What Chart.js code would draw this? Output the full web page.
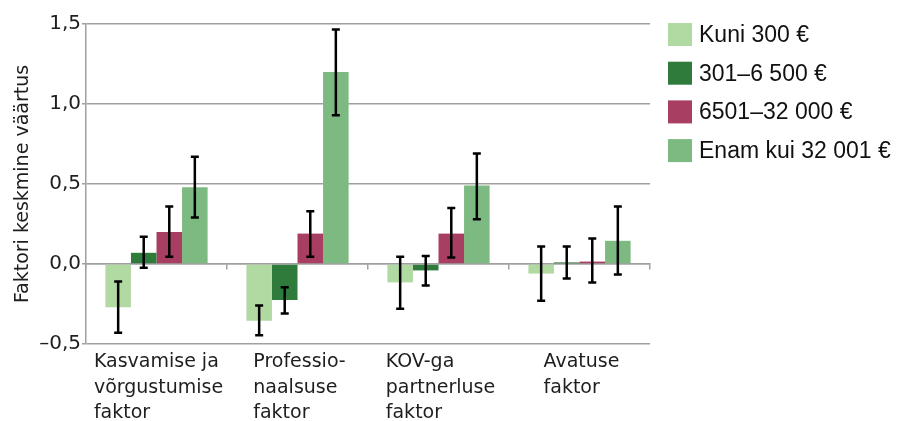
<!DOCTYPE html>
<html>
<head>
<meta charset="utf-8">
<script src="https://cdn.jsdelivr.net/npm/chart.js@4.4.1/dist/chart.umd.min.js"></script>
<style>
    html, body { margin: 0; padding: 0; background: #fff; }
</style>
</head>
<body>
<canvas id="factorChart" width="898" height="421"></canvas>
<script>
// Categories (multi-line labels)
const categories = [
    ['Kasvamise ja', 'võrgustumise', 'faktor'],
    ['Professio-', 'naalsuse', 'faktor'],
    ['KOV-ga', 'partnerluse', 'faktor'],
    ['Avatuse', 'faktor']
];

const seriesNames = ['Kuni 300 €', '301–6 500 €', '6501–32 000 €', 'Enam kui 32 001 €'];
const seriesColors = ['#b1daa3', '#2e7b3c', '#a83e62', '#7dba81'];

// Mean values per series
const meanKuni300 = [-0.27, -0.355, -0.115, -0.06];
const mean301to6500 = [0.07, -0.225, -0.04, 0.01];
const mean6501to32000 = [0.20, 0.19, 0.19, 0.015];
const meanOver32001 = [0.48, 1.20, 0.49, 0.145];

// Error bar ranges (low / high)
const lowKuni300 = [-0.43, -0.445, -0.28, -0.23];
const highKuni300 = [-0.11, -0.26, 0.045, 0.11];
const low301to6500 = [-0.023, -0.31, -0.135, -0.09];
const high301to6500 = [0.17, -0.145, 0.05, 0.11];
const low6501to32000 = [0.045, 0.045, 0.04, -0.115];
const high6501to32000 = [0.36, 0.33, 0.35, 0.16];
const lowOver32001 = [0.29, 0.93, 0.28, -0.065];
const highOver32001 = [0.67, 1.465, 0.69, 0.36];

// Y axis ticks
const yTicks = [-0.5, 0, 0.5, 1.0, 1.5];

const means = [meanKuni300, mean301to6500, mean6501to32000, meanOver32001];
const lows = [lowKuni300, low301to6500, low6501to32000, lowOver32001];
const highs = [highKuni300, high301to6500, high6501to32000, highOver32001];

const GRID = '#a0a0a0';
const AXIS_FONT = 'DejaVu Sans';
const TEXT = '#1e1e1e';

// Error bars drawn on top of the bars
const errorBarPlugin = {
    id: 'errorBars',
    afterDatasetsDraw(chart) {
        const ctx = chart.ctx;
        const yScale = chart.scales.y;
        ctx.save();
        ctx.strokeStyle = '#000';
        ctx.lineWidth = 2.5;
        chart.data.datasets.forEach((ds, i) => {
            const meta = chart.getDatasetMeta(i);
            meta.data.forEach((bar, j) => {
                const x = bar.x;
                const yLo = yScale.getPixelForValue(ds.errLow[j]);
                const yHi = yScale.getPixelForValue(ds.errHigh[j]);
                ctx.beginPath();
                ctx.moveTo(x, yLo);
                ctx.lineTo(x, yHi);
                ctx.moveTo(x - 4, yLo);
                ctx.lineTo(x + 4, yLo);
                ctx.moveTo(x - 4, yHi);
                ctx.lineTo(x + 4, yHi);
                ctx.stroke();
            });
        });
        ctx.restore();
    }
};

// Category labels: centred block, lines left-aligned
const categoryLabelPlugin = {
    id: 'categoryLabels',
    afterDraw(chart) {
        const ctx = chart.ctx;
        const xScale = chart.scales.x;
        ctx.save();
        ctx.font = '19px "' + AXIS_FONT + '"';
        ctx.fillStyle = TEXT;
        ctx.textAlign = 'left';
        ctx.textBaseline = 'alphabetic';
        chart.data.labels.forEach((lines, j) => {
            const cx = xScale.getPixelForValue(j) + 2;
            const w = Math.max(...lines.map(l => ctx.measureText(l).width));
            const left = cx - w / 2;
            lines.forEach((line, k) => {
                ctx.fillText(line, left, 367 + k * 25.5);
            });
        });
        ctx.restore();
    }
};

// Legend on the right
const legendPlugin = {
    id: 'sideLegend',
    afterDraw(chart) {
        const ctx = chart.ctx;
        ctx.save();
        ctx.font = '23px "Liberation Sans"';
        ctx.textBaseline = 'middle';
        chart.data.datasets.forEach((ds, i) => {
            const top = 23 + i * 38.7;
            ctx.fillStyle = ds.backgroundColor;
            ctx.fillRect(668, top, 24, 23);
            ctx.fillStyle = '#111';
            ctx.fillText(ds.label, 699, top + 12.5);
        });
        ctx.restore();
    }
};

const datasets = seriesNames.map((name, i) => ({
    label: name,
    data: means[i],
    errLow: lows[i],
    errHigh: highs[i],
    backgroundColor: seriesColors[i],
    borderWidth: 0,
    barPercentage: 1.0,
    categoryPercentage: 0.725
}));

const ctx = document.getElementById('factorChart').getContext('2d');
new Chart(ctx, {
    type: 'bar',
    data: { labels: categories, datasets: datasets },
    options: {
        responsive: false,
        animation: false,
        events: [],
        layout: { padding: { left: 0, right: 248, top: 24, bottom: 77 } },
        plugins: {
            legend: { display: false },
            tooltip: { enabled: false }
        },
        scales: {
            x: {
                position: { y: 0 },
                grid: {
                    display: true,
                    offset: true,
                    drawOnChartArea: false,
                    drawTicks: true,
                    tickLength: 5,
                    color: GRID,
                    lineWidth: 1.5
                },
                border: { display: true, color: GRID, width: 1.5 },
                ticks: { display: false }
            },
            y: {
                min: -0.5,
                max: 1.5,
                afterBuildTicks(scale) {
                    scale.ticks = yTicks.map(v => ({ value: v }));
                },
                afterFit(scale) {
                    scale.width = 86;
                },
                grid: {
                    color: GRID,
                    lineWidth: 1.5,
                    tickLength: 4
                },
                border: { display: true, color: GRID, width: 1.5 },
                ticks: {
                    padding: 1,
                    color: TEXT,
                    font: { family: AXIS_FONT, size: 20 },
                    callback: v => v.toFixed(1).replace('.', ',').replace('-', '–')
                },
                title: {
                    display: true,
                    text: 'Faktori keskmine väärtus',
                    color: TEXT,
                    font: { family: AXIS_FONT, size: 19 },
                    padding: { top: 12, bottom: 0 }
                }
            }
        }
    },
    plugins: [errorBarPlugin, categoryLabelPlugin, legendPlugin]
});
</script>
</body>
</html>
